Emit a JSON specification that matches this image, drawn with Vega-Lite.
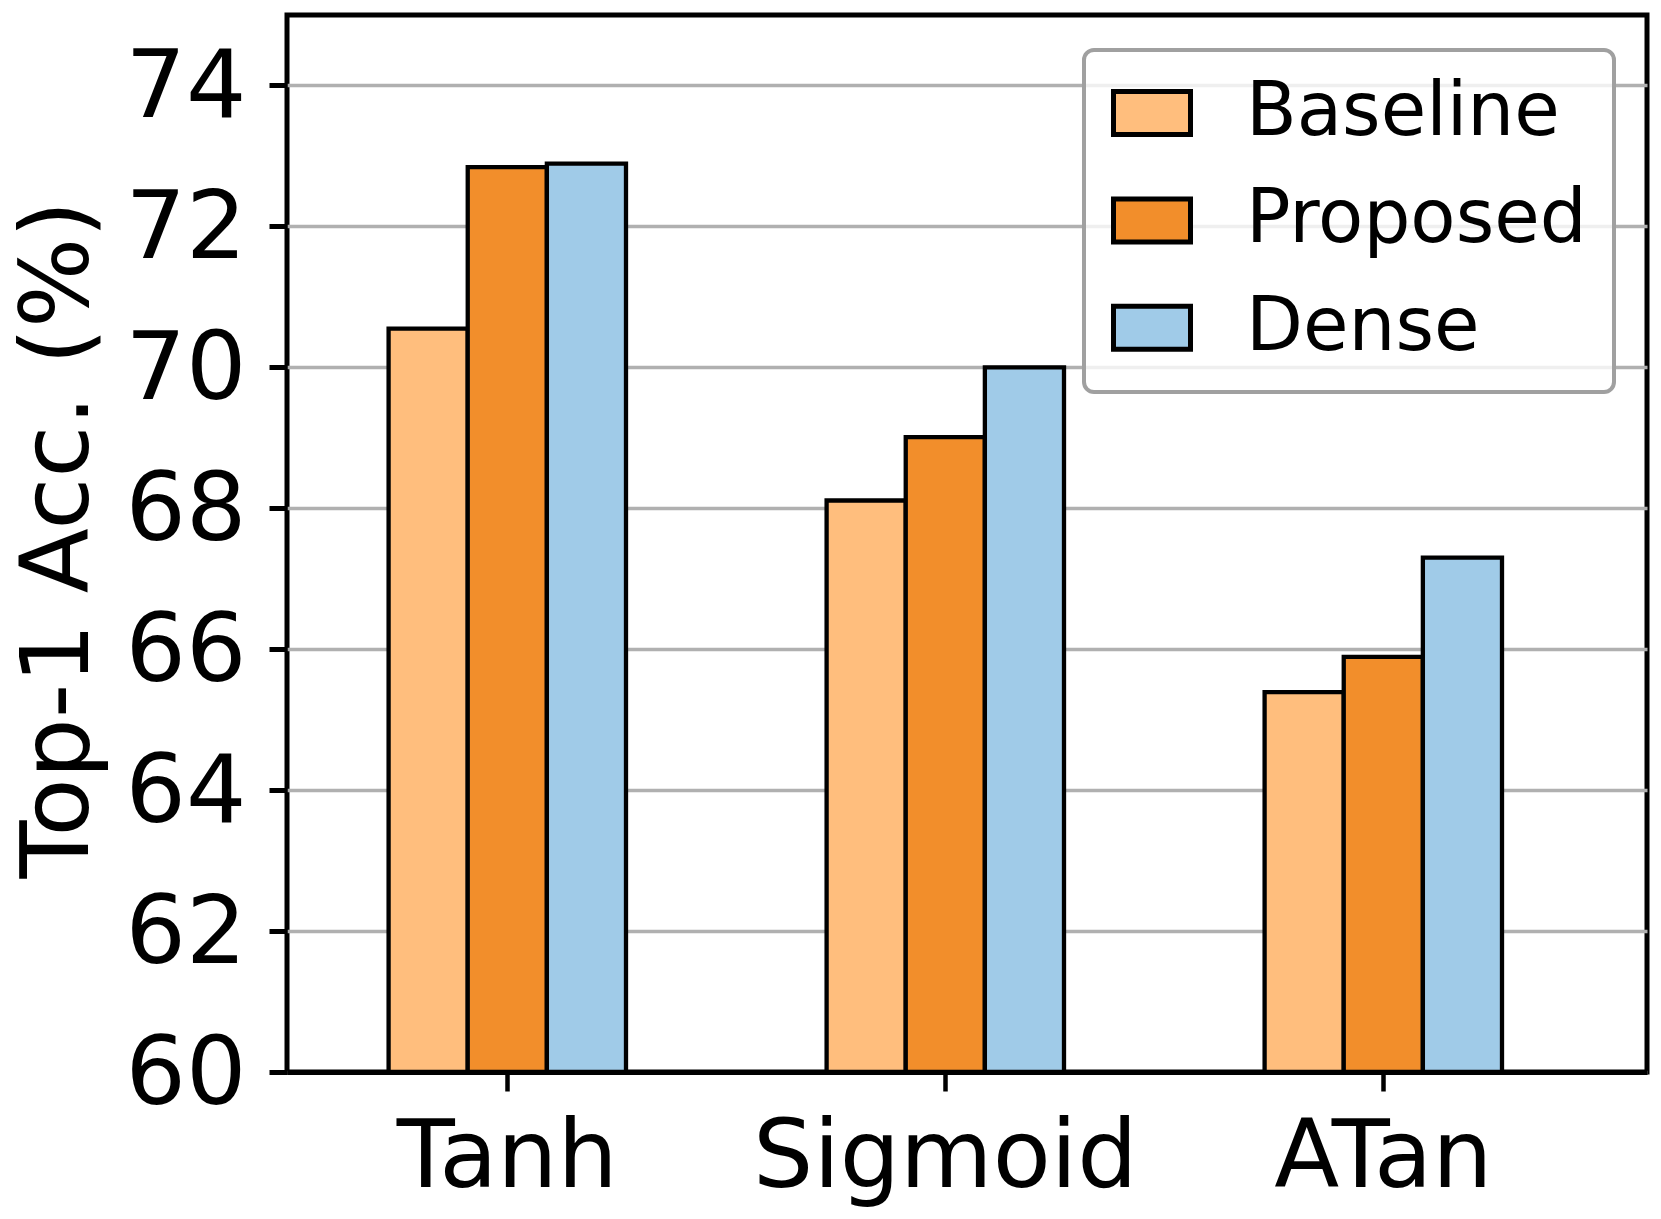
{
  "$schema": "https://vega.github.io/schema/vega-lite/v6.json",
  "width": 1360,
  "height": 1057,
  "autosize": "none",
  "padding": {"left": 287, "top": 15, "right": 14, "bottom": 147},
  "background": "white",
  "config": {
    "font": "DejaVu Sans",
    "view": {"stroke": "black", "strokeWidth": 5}
  },
  "data": {
    "values": [
      {"activation": "Tanh", "method": "Baseline", "acc": 70.55},
      {"activation": "Tanh", "method": "Proposed", "acc": 72.84},
      {"activation": "Tanh", "method": "Dense", "acc": 72.89},
      {"activation": "Sigmoid", "method": "Baseline", "acc": 68.11},
      {"activation": "Sigmoid", "method": "Proposed", "acc": 69.01},
      {"activation": "Sigmoid", "method": "Dense", "acc": 70.0},
      {"activation": "ATan", "method": "Baseline", "acc": 65.39},
      {"activation": "ATan", "method": "Proposed", "acc": 65.89},
      {"activation": "ATan", "method": "Dense", "acc": 67.3}
    ]
  },
  "mark": {"type": "bar", "stroke": "black", "strokeWidth": 4.3},
  "encoding": {
    "x": {
      "field": "activation",
      "type": "nominal",
      "sort": ["Tanh", "Sigmoid", "ATan"],
      "scale": {"paddingInner": 0.458, "paddingOuter": 0.2815, "align": 0.412},
      "axis": {
        "title": null,
        "labelAngle": 0,
        "labelFontSize": 95,
        "labelColor": "black",
        "labelLimit": 2000,
        "labelPadding": 20,
        "tickSize": 19,
        "tickWidth": 4.5,
        "tickColor": "black",
        "domain": true,
        "domainColor": "black",
        "domainWidth": 5,
        "zindex": 1,
        "grid": false
      }
    },
    "xOffset": {
      "field": "method",
      "sort": ["Baseline", "Proposed", "Dense"],
      "scale": {"paddingInner": 0, "paddingOuter": 0}
    },
    "y": {
      "field": "acc",
      "type": "quantitative",
      "scale": {"domain": [60, 75], "zero": false, "nice": false},
      "axis": {
        "title": "Top-1 Acc. (%)",
        "values": [60, 62, 64, 66, 68, 70, 72, 74],
        "titleFontSize": 95,
        "titleFontWeight": "normal",
        "titleColor": "black",
        "titleX": -200,
        "titleY": 524,
        "titleBaseline": "alphabetic",
        "labelFontSize": 95,
        "labelColor": "black",
        "labelPadding": 23,
        "labelOffset": 2,
        "tickSize": 18,
        "tickWidth": 5,
        "tickColor": "black",
        "domain": false,
        "grid": true,
        "gridColor": "#b0b0b0",
        "gridWidth": 3.6
      }
    },
    "y2": {"datum": 60},
    "color": {
      "field": "method",
      "type": "nominal",
      "sort": ["Baseline", "Proposed", "Dense"],
      "scale": {"domain": ["Baseline", "Proposed", "Dense"], "range": ["#ffbe7d", "#f28e2b", "#a0cbe8"]},
      "legend": {
        "title": null,
        "orient": "none",
        "legendX": 797,
        "legendY": 35,
        "direction": "vertical",
        "labelFontSize": 74,
        "labelColor": "black",
        "labelOffset": 53,
        "labelLimit": 1000,
        "labelBaseline": "middle",
        "symbolType": "M-1,-0.558H1V0.558H-1Z",
        "symbolSize": 5929,
        "symbolStrokeColor": "black",
        "symbolStrokeWidth": 5,
        "symbolOpacity": 1,
        "rowPadding": 33.4,
        "padding": 27,
        "strokeColor": "#a0a0a0",
        "cornerRadius": 10,
        "fillColor": "rgba(255,255,255,0.8)",
        "encode": {
          "legend": {"update": {"strokeWidth": {"value": 4}}},
          "symbols": {"update": {"y": {"value": 36}}},
          "labels": {"update": {"y": {"value": 36}}}
        }
      }
    }
  }
}
